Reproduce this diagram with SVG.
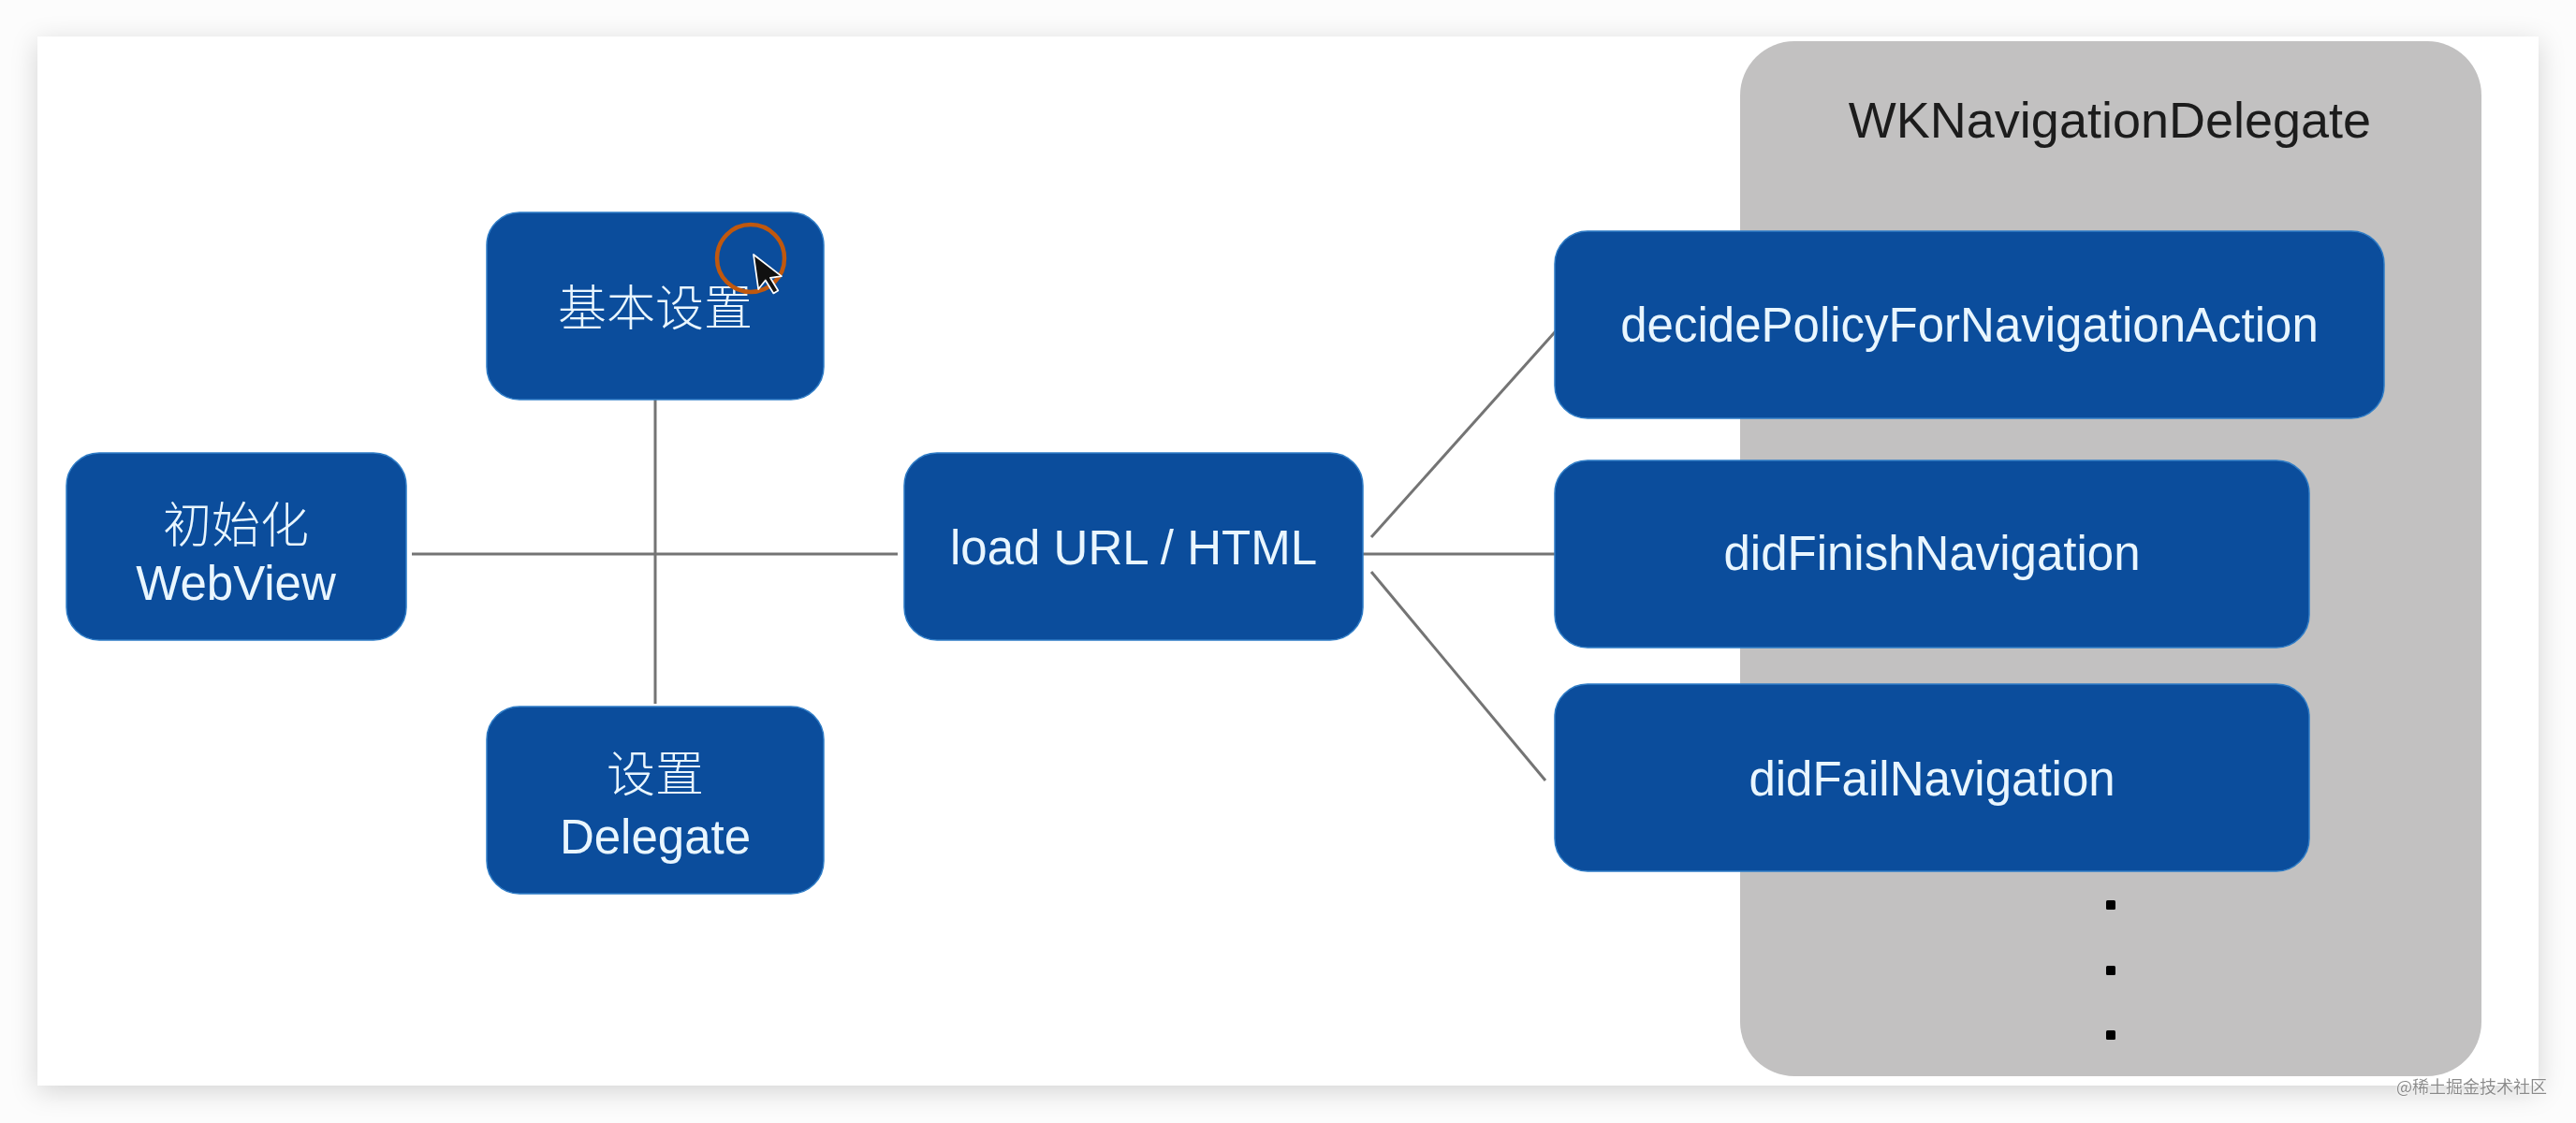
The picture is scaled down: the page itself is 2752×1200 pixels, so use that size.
<svg xmlns="http://www.w3.org/2000/svg" width="2752" height="1200" viewBox="0 0 2752 1200">
  <defs>
    <filter id="slideShadow" x="-5%" y="-5%" width="110%" height="115%">
      <feDropShadow dx="0" dy="6" stdDeviation="14" flood-color="#000000" flood-opacity="0.16"/>
    </filter>
    <filter id="halo" x="-10%" y="-30%" width="120%" height="160%">
      <feDropShadow dx="0" dy="0" stdDeviation="1.5" flood-color="#ffffff" flood-opacity="1"/>
    </filter>
  </defs>
  <style>
    .box { fill: #0b4d9c; stroke: #2f7cc6; stroke-width: 1.5; }
    .lbl { font-family: "Liberation Sans", Arial, "Noto Sans CJK SC", sans-serif; font-size: 51px; fill: #e9f6ff; text-anchor: middle; font-weight: 300; }
    .cjk { font-family: "Noto Sans CJK SC", "Liberation Sans", sans-serif; font-size: 52px; fill: #e9f6ff; text-anchor: middle; font-weight: 300; }
    .conn line { stroke: #747474; stroke-width: 3; }
    .dot { fill: #000000; }
  </style>

  <!-- background and slide -->
  <rect x="0" y="0" width="2752" height="1200" fill="#fcfcfc"/>
  <rect x="40" y="39" width="2672" height="1121" fill="#ffffff" filter="url(#slideShadow)"/>

  <!-- WKNavigationDelegate container -->
  <g id="wk-panel">
    <rect x="1859" y="44" width="792" height="1106" rx="58" ry="58" fill="#c2c1c1"/>
    <text x="2254" y="147" font-family="'Liberation Sans', Arial, sans-serif" font-size="54" fill="#1c1c1c" text-anchor="middle" font-weight="300">WKNavigationDelegate</text>
    <rect class="dot" x="2250" y="962" width="10" height="10" rx="1.5"/>
    <rect class="dot" x="2250" y="1032" width="10" height="10" rx="1.5"/>
    <rect class="dot" x="2250" y="1101" width="10" height="10" rx="1.5"/>
  </g>

  <!-- connectors -->
  <g id="connectors" class="conn">
    <line x1="440" y1="592" x2="959" y2="592"/>
    <line x1="700" y1="426" x2="700" y2="752"/>
    <line x1="1453" y1="592" x2="1664" y2="592"/>
    <line x1="1465" y1="574" x2="1669" y2="346"/>
    <line x1="1465" y1="611" x2="1651" y2="834"/>
  </g>

  <g id="node-init">
    <rect class="box" x="71" y="484" width="363" height="200" rx="35" ry="35"/>
    <text class="cjk" x="252" y="580">初始化</text>
    <text class="lbl" x="252" y="641">WebView</text>
  </g>

  <g id="node-basic">
    <rect class="box" x="520" y="227" width="360" height="200" rx="35" ry="35"/>
    <text class="cjk" x="700" y="348">基本设置</text>
  </g>

  <g id="node-delegate">
    <rect class="box" x="520" y="755" width="360" height="200" rx="35" ry="35"/>
    <text class="cjk" x="700" y="846">设置</text>
    <text class="lbl" x="700" y="912">Delegate</text>
  </g>

  <g id="node-load">
    <rect class="box" x="966" y="484" width="490" height="200" rx="35" ry="35"/>
    <text class="lbl" x="1211" y="603">load URL / HTML</text>
  </g>

  <g id="node-decide">
    <rect class="box" x="1661" y="247" width="886" height="200" rx="35" ry="35"/>
    <text class="lbl" x="2104" y="365">decidePolicyForNavigationAction</text>
  </g>

  <g id="node-finish">
    <rect class="box" x="1661" y="492" width="806" height="200" rx="35" ry="35"/>
    <text class="lbl" x="2064" y="609">didFinishNavigation</text>
  </g>

  <g id="node-fail">
    <rect class="box" x="1661" y="731" width="806" height="200" rx="35" ry="35"/>
    <text class="lbl" x="2064" y="850">didFailNavigation</text>
  </g>

  <!-- cursor highlight -->
  <g id="cursor">
    <circle cx="802" cy="276" r="36" fill="none" stroke="#c0580e" stroke-width="4.5"/>
    <path d="M0,0 L0,17 L4,13.2 L7,20 L9.4,19 L6.5,12.3 L12,12.3 Z" transform="translate(805,272) scale(2.2) rotate(-8)" fill="#111111" stroke="#ffffff" stroke-width="0.8" stroke-linejoin="round"/>
  </g>

  <!-- watermark -->
  <text x="2721" y="1168" font-family="'Noto Sans CJK SC', 'Liberation Sans', sans-serif" font-size="18" fill="#8a8a8a" text-anchor="end" filter="url(#halo)">@稀土掘金技术社区</text>
</svg>
